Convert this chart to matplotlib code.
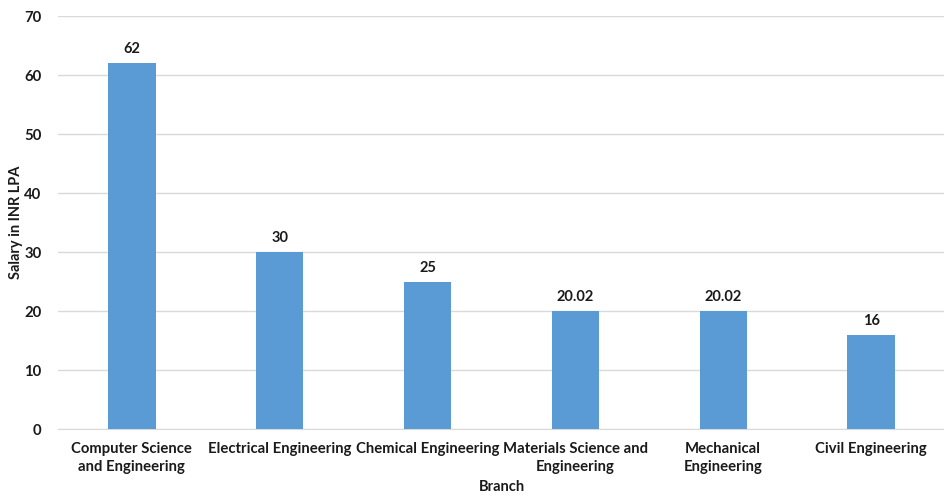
import matplotlib
matplotlib.use("Agg")
import matplotlib.pyplot as plt

categories = ["Computer Science\nand Engineering", "Electrical Engineering",
              "Chemical Engineering", "Materials Science and\nEngineering",
              "Mechanical\nEngineering", "Civil Engineering"]
values = [62, 30, 25, 20.02, 20.02, 16]
value_labels = ["62", "30", "25", "20.02", "20.02", "16"]
yticks = [0, 10, 20, 30, 40, 50, 60, 70]

plt.rcParams['font.family'] = ['Lato', 'DejaVu Sans']

fig = plt.figure(figsize=(9.45, 4.98), dpi=100)
ax = fig.add_axes([58/945, 1-429/498, 1-58/945, (429-16)/498])

x = list(range(len(categories)))
ax.bar(x, values, width=0.32, color="#5B9BD5", zorder=3)
for xi, v, lab in zip(x, values, value_labels):
    ax.annotate(lab, (xi, v), xytext=(0, 5), textcoords="offset points",
                ha="center", va="bottom", fontsize=10.5, fontweight="bold", color="#1a1a1a", zorder=4)

ax.set_xlim(-0.5, len(categories) - 0.5)
ax.set_ylim(0, 70)
ax.set_yticks(yticks)
ax.set_xticks(x)
ax.set_xticklabels(categories, fontsize=10.7, fontweight="bold", color="#1a1a1a", linespacing=1.45)
ax.tick_params(axis="x", length=0, pad=9)
ax.tick_params(axis="y", length=0, pad=12, labelsize=10.7, labelcolor="#1a1a1a")
for t in ax.get_yticklabels():
    t.set_fontweight("bold")
ax.yaxis.grid(True, color="#D9D9D9", linewidth=1, zorder=0)
ax.set_axisbelow(True)
for s in ["top", "right", "left"]:
    ax.spines[s].set_visible(False)
ax.spines["bottom"].set_color("#D9D9D9")
ax.set_xlabel("Branch", fontsize=10.5, fontweight="bold", color="#1a1a1a", labelpad=4)
ax.set_ylabel("Salary in INR LPA", fontsize=10.5, fontweight="bold", color="#1a1a1a", labelpad=1)

fig.savefig("out.png", dpi=100)
